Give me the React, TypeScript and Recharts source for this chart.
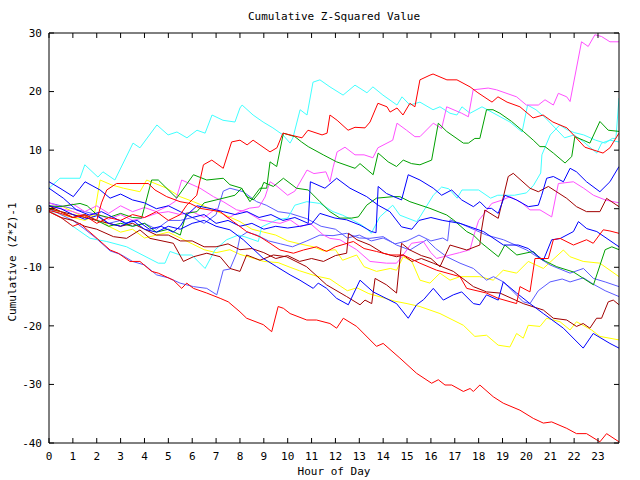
import React from 'react';
import { LineChart, Line, XAxis, YAxis, ReferenceLine } from 'recharts';

// hours on the x axis, values on the y axis
const HOUR_TICKS = Array.from({ length: 24 }, (_, i) => i);
const VALUE_TICKS = [-40, -30, -20, -10, 0, 10, 20, 30];

type Pt = [number, number];

const cyanA: Pt[] = [[0,3.5],[0.46,5.2],[1.3,5.2],[1.5,7.5],[2.05,5.4],[2.26,6.3],[2.76,4.9],[3.52,11.2],[3.81,10.4],[4.52,14.3],[4.99,12.6],[5.36,13.1],[5.78,12.1],[6.2,13.4],[6.54,12.9],[6.83,16.0],[7.29,15.1],[7.79,14.8],[8.0,17.2],[8.09,17.7],[8.55,16.0],[8.97,14.8],[9.38,13.8],[9.8,12.6],[10.1,11.2],[10.22,12.1],[10.52,16.9],[10.81,16.0],[11.06,21.6],[11.35,22.0],[11.77,20.8],[12.32,19.4],[12.82,21.1],[13.32,19.8],[13.57,20.8],[13.99,19.4],[14.58,17.7],[14.79,19.1],[15.12,17.7],[15.54,18.2],[16.09,16.9],[16.38,17.4],[16.8,16.3],[17.09,16.0],[17.3,17.4],[17.64,16.3],[18.14,17.4],[18.77,16.0],[19.31,14.8],[19.82,13.1],[20.05,17.7],[20.4,16.9],[20.8,15.5],[21.6,12.1],[22.0,12.6],[22.4,11.4],[22.95,9.5],[23.15,11.2],[23.5,11.7],[23.88,11.4]];
const cyanB: Pt[] = [[0,-0.3],[0.5,-1.5],[1.0,-3],[1.72,-5.05],[2.42,-5.6],[3.25,-6.5],[4.58,-9.3],[4.86,-9.3],[5.07,-7.3],[5.49,-7.9],[5.98,-7.9],[6.54,-10.2],[6.96,-7.0],[7.44,-5.3],[7.93,-4.5],[8.21,-4.8],[8.77,-5.6],[8.91,-3.1],[9.54,-1.9],[10.0,-1.6],[10.3,0.6],[10.8,1.2],[11.35,0.9],[11.9,-0.5],[12.3,-1.1],[12.75,-2],[13.1,-2.8],[13.3,-3.4],[13.5,-4.2],[13.86,-1.4],[14.4,0.6],[14.7,-1.1],[15.4,-2.2],[15.54,-1.4],[16.1,2.3],[16.45,3.7],[16.75,3.4],[17.1,1.8],[17.3,3.2],[18.0,3.2],[18.5,1.8],[18.8,2.3],[19.5,2.3],[20.0,2.7],[20.3,4.0],[20.6,6.1],[20.65,9.2],[21.0,12.6],[21.4,14.3],[21.7,13.5],[22.0,13.0],[22.4,12.6],[22.9,11.7],[23.3,11.2],[23.6,12.0],[23.75,12.0],[23.88,18.9]];
const redA: Pt[] = [[0,-0.3],[0.5,-0.8],[1,-1.5],[1.5,-1.2],[2,-2.5],[2.5,-1.5],[3,-2],[3.5,-1.0],[4,-1.5],[4.5,-0.5],[5,-2],[5.5,-1],[5.77,0.6],[6.19,2.3],[6.47,7.5],[6.82,8.3],[7.3,6.9],[7.65,11.4],[8.0,11.7],[8.3,10.9],[8.55,11.7],[9.26,9.7],[9.55,10.4],[9.8,12.9],[10.6,12.1],[10.85,13.4],[11.44,12.6],[11.65,12.9],[11.77,16.0],[12.07,15.1],[12.53,13.4],[12.82,13.9],[13.24,13.8],[13.45,14.8],[13.78,18.0],[14.16,17.4],[14.29,16.5],[14.58,17.2],[14.83,16.0],[15.12,18.0],[15.33,17.4],[15.54,22.0],[15.96,22.8],[16.09,23.0],[16.67,22.0],[17.09,22.0],[17.64,20.8],[17.97,19.8],[18.56,18.2],[18.81,19.1],[19.19,18.2],[19.73,17.4],[20.28,15.5],[20.7,16.0],[21.11,14.8],[21.7,13.8],[22.45,10.5],[23.21,9.5],[23.5,10.4],[23.88,12.9]];
const redBottom: Pt[] = [[0,-0.5],[0.5,-1.5],[1.0,-3.0],[1.3,-2.5],[1.6,-3.6],[1.93,-4.77],[2.56,-7.05],[2.9,-7.6],[3.39,-9.0],[3.81,-9.0],[4.3,-10.7],[4.58,-11.0],[5.21,-12.2],[5.56,-13.6],[5.77,-12.7],[6.05,-13.6],[6.61,-14.4],[7.17,-15.3],[7.51,-15.9],[8.0,-17.6],[8.28,-18.7],[8.98,-19.8],[9.33,-21.0],[9.6,-16.7],[9.82,-17.0],[10.1,-17.9],[10.8,-19.0],[11.21,-19.0],[11.77,-19.6],[12.05,-20.4],[12.33,-18.7],[12.89,-20.1],[13.72,-23.5],[14.0,-23.0],[14.7,-25.5],[15.4,-28.1],[16.03,-29.8],[16.31,-29.2],[16.59,-30.1],[16.87,-30.1],[17.36,-31.2],[17.64,-30.7],[17.78,-31.2],[18.05,-30.1],[18.61,-32.1],[19.03,-33.2],[19.73,-34.4],[20.29,-35.8],[20.71,-36.6],[21.06,-36.4],[21.69,-37.5],[22.1,-38.4],[22.52,-38.4],[23.08,-39.8],[23.36,-38.4],[23.88,-39.8]];
const redC: Pt[] = [[0,0],[0.5,-0.5],[1,-1.5],[1.5,-1],[2.0,-2],[2.2,1],[2.42,3.2],[2.83,4.3],[3.39,4.3],[4.16,4.3],[4.44,3.2],[4.93,2.06],[5.49,1.2],[5.91,0.9],[6.33,0.06],[7.17,-0.5],[7.72,-2.2],[8.28,-3.9],[8.84,-4.8],[9.26,-5.9],[9.68,-7.05],[10.24,-7.6],[10.66,-7.05],[11.21,-6.5],[11.63,-7.3],[12.0,-6.5],[12.75,-5.6],[13.2,-6.8],[13.72,-7.3],[14.3,-7.9],[14.84,-7.9],[15.54,-9.3],[16.24,-10.5],[17.22,-11.6],[17.5,-13.6],[18.33,-14.4],[18.82,-15.3],[19.59,-16.2],[19.73,-13.3],[20.15,-14.2],[20.36,-8.5],[20.92,-8.5],[21.13,-5.3],[21.41,-5.06],[21.97,-6.2],[22.52,-5.3],[22.8,-5.9],[23.22,-3.6],[23.5,-3.8],[23.88,-4.2]];
const magentaA: Pt[] = [[0,0.5],[0.5,0],[1,-0.5],[1.5,-1.2],[2,-0.8],[2.5,-1.8],[3,-1.0],[3.5,-2.0],[4,-1.5],[4.5,-0.8],[5,-0.5],[5.5,-1],[6,-0.5],[6.5,-1.5],[7,0.06],[7.5,-1.6],[8.0,-0.5],[8.4,0.1],[8.8,0.3],[9.05,2.0],[9.26,4.6],[9.5,4.0],[10.0,2.3],[10.3,3.0],[10.81,6.6],[11.1,6.0],[11.6,6.3],[11.77,4.6],[11.9,7.0],[12.07,9.7],[12.4,10.5],[12.82,9.2],[13.2,9.2],[13.57,8.7],[13.78,10.4],[14.16,11.2],[14.4,11.7],[14.58,14.6],[14.98,13.4],[15.33,12.3],[15.54,12.3],[16.1,14.6],[16.45,13.7],[16.66,17.4],[17.29,16.3],[17.57,15.7],[17.77,20.3],[18.4,20.6],[18.75,20.3],[19.59,19.1],[20.0,17.7],[20.5,17.7],[20.78,18.6],[21.13,17.7],[21.34,19.7],[21.69,19.1],[21.83,18.3],[22.31,28.5],[22.59,27.7],[22.87,29.7],[23.15,29.4],[23.5,28.5],[23.88,28.5]];
const magentaB: Pt[] = [[0,1.0],[0.5,0.3],[1,0.8],[1.5,-0.5],[2,0.5],[2.5,-0.8],[3,0.5],[3.5,-0.5],[4,0.2],[4.5,-0.5],[5,0.5],[5.3,1.3],[5.56,4.9],[6.33,3.5],[6.89,2.06],[7.3,1.2],[7.86,-0.2],[8.28,-0.5],[8.84,-1.9],[9.68,-2.5],[10.1,-1.9],[10.52,-3.1],[10.94,-2.5],[11.5,-4.5],[11.77,-5.06],[12.19,-5.3],[12.89,-7.0],[13.45,-9.0],[14.14,-9.3],[14.56,-9.3],[14.84,-7.9],[15.19,-5.9],[15.68,-5.6],[16.0,-7.5],[16.24,-8.5],[16.52,-8.2],[17.2,-7.5],[17.64,-7.0],[17.78,-4.8],[18.0,-2.0],[18.2,-1.0],[18.55,0.9],[19.0,1.5],[19.32,2.06],[19.8,1.0],[20.15,-0.2],[20.57,-0.2],[21.06,-1.4],[21.34,4.3],[21.97,4.6],[22.4,3.5],[22.81,2.3],[23.3,1.5],[23.88,1.0]];
const greenA: Pt[] = [[0,0.5],[0.46,0.35],[1.3,0.9],[1.6,0.5],[2,-1],[2.5,-1.5],[3,-0.8],[3.5,-1.5],[3.88,-1.6],[4.3,4.9],[4.58,4.9],[5.35,1.8],[6.05,5.8],[6.61,4.9],[7.3,5.2],[7.58,4.1],[8.07,3.5],[8.42,1.2],[8.84,3.5],[9.12,3.5],[9.26,8.0],[9.54,7.2],[9.82,12.9],[10.3,12.3],[10.58,11.4],[10.86,10.6],[11.49,9.2],[12.05,8.0],[12.82,6.9],[13.03,7.7],[13.58,5.8],[13.79,9.5],[14.21,8.0],[14.56,7.2],[14.84,8.3],[15.19,7.7],[15.54,7.5],[16.03,8.3],[16.31,14.6],[16.66,13.2],[17.36,11.2],[17.57,11.2],[17.84,12.0],[18.05,12.0],[18.33,16.9],[18.6,16.9],[18.89,16.3],[19.38,14.9],[19.87,13.2],[20.29,11.7],[20.57,10.6],[20.78,10.6],[21.13,9.5],[21.62,7.8],[21.9,8.9],[22.03,12.3],[22.38,11.7],[22.66,11.2],[23.08,14.9],[23.43,13.4],[23.88,13.2]];
const greenB: Pt[] = [[0,0],[0.5,-0.5],[1,-1.5],[1.5,-1],[2,-2],[2.5,-3],[3,-2.5],[3.5,-3],[4,-2.5],[4.5,-4],[5,-3.5],[5.5,-4.5],[5.75,-0.8],[6.2,-0.5],[6.5,1],[7,1.5],[7.5,2],[7.79,2.3],[8.07,3.5],[8.28,2.1],[8.56,1.5],[8.84,2.9],[9.0,4.5],[9.4,3.8],[9.82,5.2],[10.37,3.5],[10.86,3.2],[11.35,1.2],[11.77,-0.5],[12.19,-1.6],[12.68,-1.6],[12.96,-1.4],[13.31,0.6],[13.72,1.8],[14.42,2.06],[14.7,2.06],[15.12,1.2],[15.96,0.06],[16.66,-1.07],[16.94,-1.9],[17.5,-3.9],[17.78,-4.5],[18.13,-5.9],[18.83,-8.2],[19.1,-6.2],[19.6,-7.9],[20.29,-7.3],[20.57,-8.5],[21.27,-9.9],[21.97,-10.8],[22.81,-13.0],[23.3,-7.0],[23.58,-6.5],[23.88,-7.0]];
const blueA: Pt[] = [[0,4.6],[0.46,3.5],[1.02,2.06],[1.3,3.5],[1.51,4.6],[2.14,3.2],[2.56,1.8],[3.0,2.5],[3.5,1.5],[4.0,1.0],[4.5,0],[5.0,0.5],[5.5,-0.5],[6.0,-1.5],[6.5,-1.0],[7.0,-2.5],[7.5,-2.0],[8.0,-3.0],[8.5,-2.5],[9.0,-3.5],[9.5,-3.0],[10.0,-3.3],[10.5,-3.0],[11.0,-2.6],[11.35,-0.8],[11.98,-1.6],[12.47,-1.9],[13.03,-2.8],[13.51,-3.9],[13.7,-4.1],[13.79,3.8],[14.14,2.6],[14.77,1.5],[15.05,5.8],[15.54,4.9],[16.1,3.5],[16.45,2.3],[16.87,3.2],[17.29,1.5],[17.78,0.35],[18.05,1.2],[18.33,0.06],[18.54,0.06],[18.82,-0.8],[19.1,2.3],[19.59,1.5],[20.08,0.35],[20.5,0.6],[20.64,2.3],[20.85,5.2],[21.13,5.5],[21.55,4.6],[21.83,6.9],[22.1,6.3],[22.52,4.6],[23.08,2.9],[23.5,4.6],[23.88,7.2]];
const blueD: Pt[] = [[0,3.5],[0.6,1.8],[1.15,-0.2],[1.7,-1.1],[2.2,-0.5],[2.7,-1.5],[3.2,-2.5],[3.7,-2],[4.2,-3.5],[4.7,-3],[5.2,-4],[5.5,-3],[5.8,-1],[6.2,0.5],[6.8,0],[7.3,-0.5],[7.8,-1],[8.3,-0.5],[8.8,-1.5],[9.3,-1.0],[9.8,-2.0],[10.3,-1.5],[10.86,-2.5],[10.95,4.6],[11.56,3.5],[12.05,5.2],[12.61,3.5],[13.31,2.06],[13.79,0.6],[14.28,-0.5],[14.77,-3.1],[15.2,-3.5],[15.5,-2],[16,-1.5],[16.5,-2],[17.22,-2.5],[18.2,-3.9],[19.04,-6.2],[19.66,-6.2],[20.08,-6.8],[20.71,-8.8],[21.06,-5.3],[21.41,-5.1],[21.97,-3.9],[22.18,-2.2],[22.53,-3.4],[22.95,-3.9],[23.88,-6.5]];
const blueC: Pt[] = [[0,0.5],[0.5,0],[1,-1],[1.5,-1.8],[2,-1.2],[2.5,-2.5],[3,-3.0],[3.5,-2.0],[4,-3.5],[4.5,-4.0],[5,-3.0],[5.5,-3.5],[6,-2.5],[6.5,-2.0],[7,-3.0],[7.58,-3.6],[8.14,-5.3],[8.98,-8.5],[9.54,-9.9],[10.1,-11.3],[10.51,-12.2],[11.07,-13.6],[11.28,-12.7],[11.63,-13.6],[12.05,-15.3],[12.54,-16.4],[13.03,-12.2],[13.58,-14.2],[14.56,-16.2],[15.05,-18.7],[15.4,-16.4],[15.7,-15.5],[16.1,-13.6],[16.52,-15.6],[16.94,-14.7],[17.29,-14.2],[17.78,-16.2],[18.05,-16.4],[18.33,-14.7],[18.82,-15.6],[19.03,-12.5],[19.59,-14.4],[20.15,-16.2],[20.71,-17.9],[21.55,-20.4],[22.38,-23.8],[22.8,-21.3],[23.5,-23.0],[23.88,-23.8]];
const slateA: Pt[] = [[0,0],[0.5,-1],[1,-2],[1.5,-3.5],[1.93,-4.9],[2.56,-7.2],[3.0,-7.8],[3.5,-9.0],[4.0,-9.6],[4.51,-11.3],[5.0,-11.8],[5.49,-12.7],[6.05,-13.3],[6.61,-13.6],[7.03,-14.7],[7.3,-10.5],[7.58,-10.3],[7.86,-7.6],[8.0,-4.8],[8.3,-4.0],[8.7,-4.5],[9.2,-5.5],[9.7,-6.0],[10.2,-6.5],[10.8,-5.5],[11.35,-4.5],[11.9,-4.6],[12.47,-4.2],[13.0,-5.0],[13.44,-5.06],[14.0,-4.77],[14.56,-6.2],[15.12,-7.05],[15.82,-5.3],[16.2,-6.8],[16.66,-8.2],[17.22,-9.3],[17.78,-10.2],[18.33,-12.2],[18.62,-11.6],[19.04,-12.5],[19.87,-15.9],[20.15,-16.2],[20.5,-14],[20.99,-12.5],[21.5,-12],[21.83,-12.5],[22.39,-11.8],[22.81,-12.9],[23.3,-14],[23.88,-15.0]];
const slateB: Pt[] = [[0,1.0],[0.5,0.5],[1.0,0],[1.5,-0.5],[2.0,-1.0],[2.5,-2.5],[3.0,-2.0],[3.5,-3.0],[4.0,-2.5],[4.5,-3.5],[5.0,-2.0],[5.5,-2.0],[6.0,-1.5],[6.5,-2.5],[7.0,-1.0],[7.3,3.0],[7.58,3.5],[8.14,2.9],[8.7,1.2],[9.1,0.6],[9.6,-0.5],[10.1,-0.8],[10.8,-1.7],[11.4,-3.0],[12.0,-3.5],[12.5,-5.0],[13.0,-4.5],[13.5,-5.5],[14.0,-5.0],[14.5,-6.0],[15.0,-5.5],[15.5,-4.5],[16.0,-5.5],[16.5,-5.0],[16.7,-5.5],[16.8,-1.9],[17.22,-2.5],[18.33,-4.5],[19.04,-5.3],[20.01,-7.05],[20.99,-9.6],[21.83,-11.0],[22.39,-10.2],[22.81,-11.9],[23.3,-12.5],[23.88,-13.3]];
const darkRedA: Pt[] = [[0,-0.5],[0.5,-1.5],[1.0,-2.0],[1.5,-3.0],[2.0,-3.5],[2.7,-4.77],[3.25,-5.06],[3.81,-3.63],[4.23,-5.06],[5.21,-5.9],[5.63,-9.0],[6.05,-8.2],[6.61,-7.6],[7.17,-8.2],[7.58,-10.2],[8.0,-10.7],[8.28,-7.9],[8.84,-8.8],[9.4,-7.9],[9.95,-8.2],[10.79,-9.9],[11.63,-13.0],[12.47,-15.0],[13.03,-16.4],[13.24,-15.6],[13.52,-16.2],[13.66,-11.9],[14.14,-13.0],[14.56,-14.4],[14.77,-5.9],[15.12,-7.05],[15.6,-8],[16.0,-8.5],[16.38,-9.9],[16.8,-6.2],[17.5,-7.05],[18.05,-6.2],[18.12,-3.63],[18.26,-0.22],[18.82,-1.64],[19.24,5.5],[19.45,6.04],[20.15,3.5],[20.5,2.9],[20.92,3.8],[21.69,1.77],[22.1,0.35],[22.52,-0.5],[23.08,-0.5],[23.36,1.77],[23.88,0.35]];
const darkRedB: Pt[] = [[0,0.5],[0.5,-0.5],[1,-1],[1.5,-1.5],[2,-2],[2.5,-2.5],[3,-3],[3.5,-2.5],[4,-3.5],[4.5,-4.5],[5,-4.5],[5.5,-5.5],[6,-5.5],[6.5,-6.5],[7,-6.5],[7.5,-6],[8,-7],[8.5,-6.8],[9,-7.5],[9.5,-8.5],[10,-8],[10.5,-9],[11,-8.5],[11.5,-9],[12,-8],[12.47,-7.6],[12.55,-4.2],[12.9,-5.3],[13.45,-6.2],[14.0,-7.6],[14.56,-8.2],[14.84,-7.9],[15.2,-9],[15.6,-8.5],[16.1,-9.3],[16.94,-10.7],[17.78,-13.3],[18.33,-14.2],[18.89,-14.4],[19.87,-16.2],[20.71,-17.3],[21.13,-18.7],[21.69,-19.0],[22.1,-20.1],[22.38,-19.6],[22.66,-20.4],[22.94,-18.7],[23.15,-18.7],[23.43,-15.9],[23.64,-15.6],[23.88,-16.4]];
const yellowA: Pt[] = [[0,0],[0.5,0.5],[1,-0.5],[1.5,-1.5],[1.9,-1.0],[2.14,4.9],[2.63,4.05],[3.12,3.5],[3.81,2.9],[4.09,4.9],[4.93,3.5],[5.49,2.06],[6.05,1.2],[6.89,-0.2],[8.0,-2.2],[8.5,-3.5],[9.0,-4.0],[9.5,-4.5],[10.0,-5.5],[10.5,-6.0],[11.07,-6.5],[11.5,-7.2],[12.0,-7.0],[12.3,-8.8],[12.89,-7.9],[13.2,-9.9],[13.72,-10.7],[14.3,-10.2],[14.56,-10.5],[14.84,-8.2],[15.2,-9.0],[15.54,-12.2],[15.96,-12.7],[16.38,-11.0],[16.8,-12.2],[17.22,-11.6],[18.05,-11.6],[18.61,-12.2],[19.03,-10.5],[19.59,-11.0],[20.08,-9.0],[20.71,-10.2],[21.55,-7.05],[21.83,-8.2],[22.38,-9.0],[23.08,-9.3],[23.88,-11.6]];
const yellowB: Pt[] = [[0,0.5],[0.5,-1],[1,-1.5],[1.5,-2],[2,-1],[2.5,-3],[3,-4],[3.5,-3.5],[4,-5],[4.5,-4.5],[5,-4],[5.5,-5],[6,-6],[6.5,-7],[7,-7.5],[7.58,-7.0],[8.0,-7.8],[8.6,-8.5],[9.0,-9],[9.6,-9.2],[10.1,-10],[10.5,-10.6],[11.2,-11.5],[11.77,-12.0],[12.2,-13.2],[12.5,-14],[12.9,-13.5],[13.4,-14.5],[14.0,-15.2],[14.5,-15.8],[15.0,-16.2],[15.54,-16.7],[16.38,-17.9],[17.36,-19.9],[17.84,-21.8],[18.33,-21.6],[18.82,-23.3],[19.31,-23.6],[19.59,-21.3],[19.87,-22.1],[20.08,-19.9],[20.57,-20.1],[20.85,-18.7],[21.41,-19.3],[21.83,-20.7],[22.1,-19.3],[22.73,-20.7],[23.08,-21.8],[23.88,-22.4]];

const SERIES = [
  { id: 'yellowB', color: '#ffff00', pts: yellowB },
  { id: 'yellowA', color: '#ffff00', pts: yellowA },
  { id: 'slateA', color: '#5a5aff', pts: slateA },
  { id: 'slateB', color: '#5a5aff', pts: slateB },
  { id: 'cyanB', color: '#40ffff', pts: cyanB },
  { id: 'cyanA', color: '#40ffff', pts: cyanA },
  { id: 'magentaB', color: '#ff50ff', pts: magentaB },
  { id: 'magentaA', color: '#ff50ff', pts: magentaA },
  { id: 'darkRedB', color: '#a00000', pts: darkRedB },
  { id: 'darkRedA', color: '#a00000', pts: darkRedA },
  { id: 'greenB', color: '#00a000', pts: greenB },
  { id: 'greenA', color: '#00a000', pts: greenA },
  { id: 'blueC', color: '#0000ff', pts: blueC },
  { id: 'blueD', color: '#0000ff', pts: blueD },
  { id: 'blueA', color: '#0000ff', pts: blueA },
  { id: 'redC', color: '#ff0000', pts: redC },
  { id: 'redBottom', color: '#ff0000', pts: redBottom },
  { id: 'redA', color: '#ff0000', pts: redA },
];

const X_MIN = 0;
const X_MAX = 23.88;
const Y_MIN = -40;
const Y_MAX = 30;
// inward tick length, in axis units (about 5px each way)
const X_TICK_LEN = 0.21;
const Y_TICK_LEN = 0.85;

const FONT = '"DejaVu Sans Mono", monospace';
const tickFont = { fill: '#000', fontSize: 11, fontFamily: FONT };

const textStyle: React.CSSProperties = {
  position: 'absolute',
  fontFamily: FONT,
  fontSize: 11,
  lineHeight: 1,
  whiteSpace: 'nowrap',
  color: '#000',
};

export default function App() {
  return (
    <div style={{ position: 'absolute', left: 0, top: 0, width: 640, height: 480, background: '#fff' }}>
      <LineChart width={640} height={480} margin={{ top: 33, right: 21, bottom: 7, left: 0 }}>
        <XAxis type="number" dataKey="h" domain={[X_MIN, X_MAX]} allowDataOverflow
          ticks={HOUR_TICKS} interval={0} height={30} tickLine={false} tickSize={5} tickMargin={4}
          stroke="#000" tick={tickFont} />
        <YAxis type="number" domain={[Y_MIN, Y_MAX]} allowDataOverflow ticks={VALUE_TICKS}
          interval={0} width={49} tickLine={false} tickSize={4} tickMargin={3} stroke="#000" tick={tickFont} />
        {SERIES.map((s) => (
          <Line key={s.id} data={s.pts.map(([h, v]) => ({ h, v }))}
            dataKey="v" type="linear" stroke={s.color} strokeWidth={1} dot={false}
            isAnimationActive={false} />
        ))}
        {/* frame: top and right borders */}
        <ReferenceLine y={Y_MAX} stroke="#000" ifOverflow="visible" />
        <ReferenceLine x={X_MAX} stroke="#000" ifOverflow="visible" />
        {/* inward ticks on all four sides */}
        {HOUR_TICKS.map((h) => (
          <ReferenceLine key={`xb${h}`} stroke="#000" ifOverflow="visible"
            segment={[{ x: h, y: Y_MIN }, { x: h, y: Y_MIN + Y_TICK_LEN }]} />
        ))}
        {HOUR_TICKS.map((h) => (
          <ReferenceLine key={`xt${h}`} stroke="#000" ifOverflow="visible"
            segment={[{ x: h, y: Y_MAX }, { x: h, y: Y_MAX - Y_TICK_LEN }]} />
        ))}
        {VALUE_TICKS.map((v) => (
          <ReferenceLine key={`yl${v}`} stroke="#000" ifOverflow="visible"
            segment={[{ x: X_MIN, y: v }, { x: X_MIN + X_TICK_LEN, y: v }]} />
        ))}
        {VALUE_TICKS.map((v) => (
          <ReferenceLine key={`yr${v}`} stroke="#000" ifOverflow="visible"
            segment={[{ x: X_MAX, y: v }, { x: X_MAX - X_TICK_LEN, y: v }]} />
        ))}
      </LineChart>
      <div style={{ ...textStyle, left: 334, top: 16, transform: 'translate(-50%, -50%)' }}>
        Cumulative Z-Squared Value
      </div>
      <div style={{ ...textStyle, left: 334, top: 471, transform: 'translate(-50%, -50%)' }}>
        Hour of Day
      </div>
      <div style={{ ...textStyle, left: 12, top: 262, transform: 'translate(-50%, -50%) rotate(-90deg)' }}>
        Cumulative (Z*Z)-1
      </div>
    </div>
  );
}
